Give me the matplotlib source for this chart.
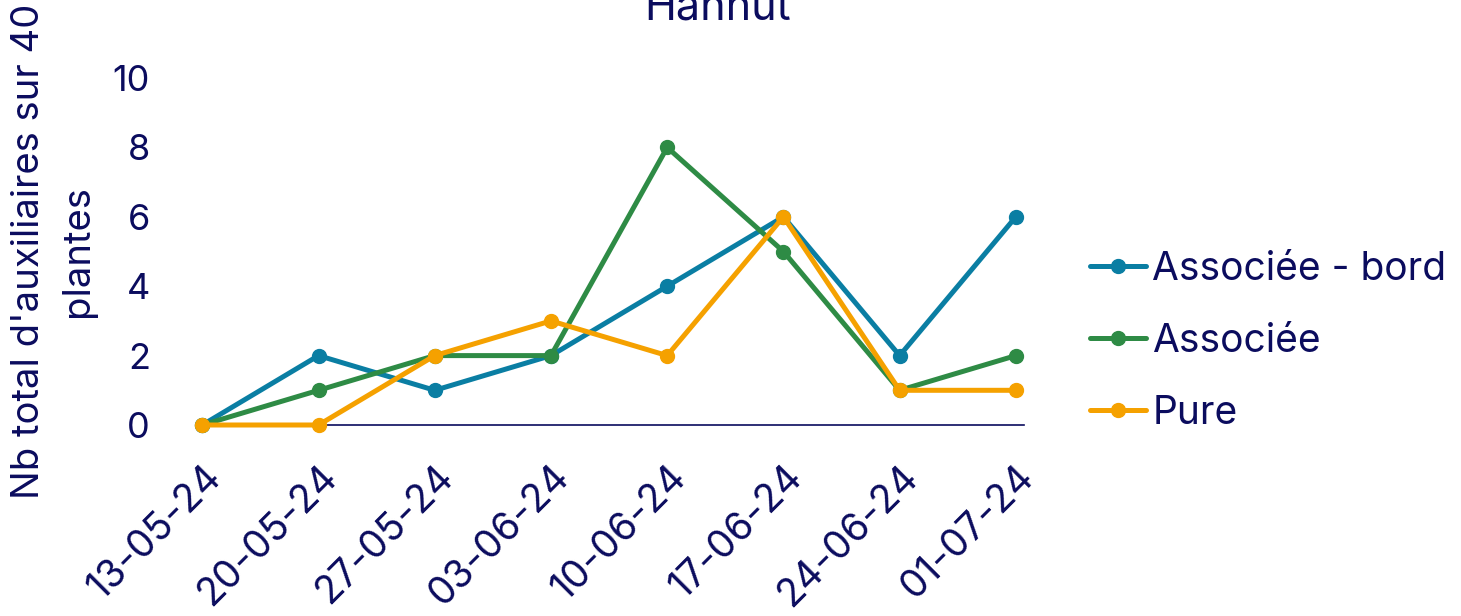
import matplotlib
matplotlib.use("Agg")
import matplotlib.pyplot as plt

# Weekly counts of beneficial insects (40 plants) at Hannut
dates = ["13-05-24", "20-05-24", "27-05-24", "03-06-24",
         "10-06-24", "17-06-24", "24-06-24", "01-07-24"]
associee_bord = [0, 2, 1, 2, 4, 6, 2, 6]
associee = [0, 1, 2, 2, 8, 5, 1, 2]
pure = [0, 0, 2, 3, 2, 6, 1, 1]

series_names = ["Associée - bord", "Associée", "Pure"]
colors = ["#0a7ea3", "#2e8b45", "#f5a100"]
navy = "#0b0c5e"

plt.rcParams["font.family"] = ["Inter", "DejaVu Sans"]

W, H = 1461, 616
fig = plt.figure(figsize=(W / 100, H / 100), dpi=100)
ax = fig.add_axes([200 / W, 1 - 425 / H, (1024 - 200) / W, (425 - 78) / H])

x = list(range(len(dates)))
for vals, name, col in zip([associee_bord, associee, pure], series_names, colors):
    ax.plot(x, vals, color=col, lw=3.6, marker="o", ms=10,
            solid_capstyle="round", solid_joinstyle="round",
            label=name, zorder=3, clip_on=False)

ax.set_ylim(0, 10)
ax.set_xlim(-0.02, 7.07)
ax.set_yticks([0, 2, 4, 6, 8, 10])
ax.set_xticks(x)
ax.set_xticklabels(dates, rotation=45, ha="right", rotation_mode="anchor")
ax.tick_params(axis="both", length=0, colors=navy)
ax.tick_params(axis="y", pad=36, labelsize=26)
ax.tick_params(axis="x", pad=24, labelsize=28)

for s in ["top", "right", "left"]:
    ax.spines[s].set_visible(False)
ax.spines["bottom"].set_color(navy)
ax.spines["bottom"].set_linewidth(1.2)
ax.spines["bottom"].set_zorder(1)

ax.set_ylabel("Nb total d'auxiliaires sur 40\nplantes", fontsize=27.5,
              color=navy, labelpad=12, linespacing=1.45)

fig.text(718 / W, 1 - 8 / H, "Hannut", fontsize=31, color=navy,
         ha="center", va="center")

fig.legend(loc="center left", bbox_to_anchor=(1090 / W, 1 - 341 / H),
           frameon=False, fontsize=28, labelcolor=navy,
           handlelength=1.45, handletextpad=0.15, labelspacing=0.9,
           borderpad=0, borderaxespad=0)

fig.savefig("out.png", dpi=100)
